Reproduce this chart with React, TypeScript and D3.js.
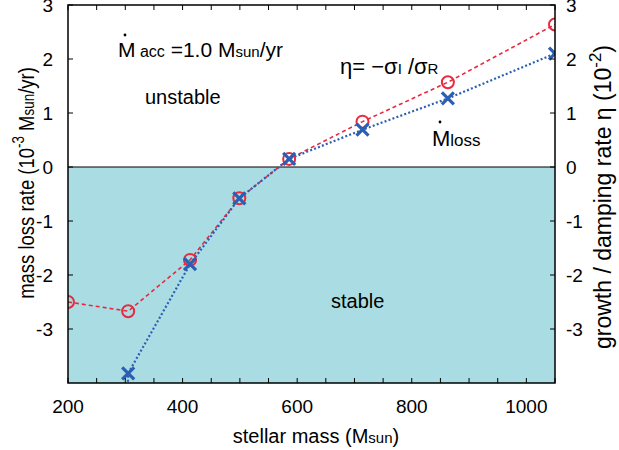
import React from 'react'
import * as d3 from 'd3'

// stellar mass (Msun) vs mass loss rate (1e-3 Msun/yr)
const massEta = [200, 305, 413, 499, 586, 714, 863, 1050]
const etaVals = [-2.5, -2.67, -1.72, -0.58, 0.15, 0.84, 1.57, 2.64]

const massLoss = [303, 305, 413, 499, 586, 714, 863, 1050]
const lossVals = [-4.6, -3.82, -1.8, -0.58, 0.15, 0.69, 1.27, 2.1]

const xTicks = [200, 400, 600, 800, 1000]
const xMinor = d3.range(200, 1051, 50)
const yTicks = [-3, -2, -1, 0, 1, 2, 3]

const W = 619
const H = 450
const m = {left: 68, right: 64, top: 5, bottom: 67}

const RED = '#e8293f'
const BLUE = '#2b5fb4'
const FONT = '"Liberation Sans", Arial, Helvetica, sans-serif'

export default function App() {
  const x = d3.scaleLinear().domain([200, 1050]).range([m.left, W - m.right])
  const y = d3.scaleLinear().domain([-4, 3]).range([H - m.bottom, m.top])
  const line = d3.line<number>()

  const etaPts: [number, number][] = massEta.map((d, i) => [x(d), y(etaVals[i])])
  const lossPts: [number, number][] = massLoss.map((d, i) => [x(d), y(lossVals[i])])

  const x0 = x.range()[0], x1 = x.range()[1]
  const yTop = y.range()[1], yBot = y.range()[0]

  return (
    <svg width={W} height={H} style={{position: 'absolute', left: 0, top: 0}} fontFamily={FONT}>
      <defs>
        <clipPath id="plot">
          <rect x={x0} y={yTop} width={x1 - x0} height={yBot - yTop} />
        </clipPath>
      </defs>
      {/* stable region */}
      <rect x={x0} y={y(0)} width={x1 - x0} height={yBot - y(0)} fill="#aadde3" />
      <line x1={x0} x2={x1} y1={y(0)} y2={y(0)} stroke="#000" strokeWidth={1.2} />

      <g clipPath="url(#plot)">
        <path d={line(etaPts) || ''} fill="none" stroke={RED} strokeWidth={1.6} strokeDasharray="4,3" />
        <path d={line(lossPts) || ''} fill="none" stroke={BLUE} strokeWidth={2.2} strokeDasharray="2,2.2" />
        {etaPts.map((p, i) => (
          <circle key={'c' + i} cx={p[0]} cy={p[1]} r={6} fill="none" stroke={RED} strokeWidth={2} />
        ))}
        {lossPts.slice(1).map((p, i) => (
          <path key={'x' + i} d={`M${p[0] - 6},${p[1] - 6}L${p[0] + 6},${p[1] + 6}M${p[0] - 6},${p[1] + 6}L${p[0] + 6},${p[1] - 6}`}
            stroke={BLUE} strokeWidth={3.2} fill="none" />
        ))}
      </g>

      {/* ticks */}
      {xMinor.map(t => (
        <g key={'xt' + t}>
          <line x1={x(t)} x2={x(t)} y1={yBot} y2={yBot - 5} stroke="#000" />
          <line x1={x(t)} x2={x(t)} y1={yTop} y2={yTop + 5} stroke="#000" />
        </g>
      ))}
      {yTicks.map(t => (
        <g key={'yt' + t}>
          <line x1={x0} x2={x0 + 5} y1={y(t)} y2={y(t)} stroke="#000" />
          <line x1={x1} x2={x1 - 5} y1={y(t)} y2={y(t)} stroke="#000" />
          <text x={x0 - 15} y={y(t)} dy="0.35em" textAnchor="end" fontSize={19}>{t}</text>
          <text x={x1 + 11} y={y(t)} dy="0.35em" textAnchor="start" fontSize={19}>{t}</text>
        </g>
      ))}
      {xTicks.map(t => (
        <text key={'xl' + t} x={x(t)} y={yBot + 30} textAnchor="middle" fontSize={19}>{t}</text>
      ))}

      <rect x={x0} y={yTop} width={x1 - x0} height={yBot - yTop} fill="none" stroke="#000" strokeWidth={1.5} />

      {/* axis titles */}
      <text x={316} y={443} textAnchor="middle" fontSize={20}>
        stellar mass (M<tspan fontSize={15}>sun</tspan>)
      </text>
      <text transform={`translate(34,183) rotate(-90) scale(0.84,1)`} textAnchor="middle" fontSize={22}>
        mass loss rate (10<tspan fontSize={16} dy={-10}>-3</tspan><tspan dy={10}> M</tspan><tspan fontSize={16}>sun</tspan>/yr)
      </text>
      <text transform={`translate(611,197) rotate(-90)`} textAnchor="middle" fontSize={23}>
        growth / damping rate η  (10<tspan fontSize={17} dy={-10}>-2</tspan><tspan dy={10}>)</tspan>
      </text>

      {/* annotations */}
      <text x={118} y={57} fontSize={21}>
        M<tspan fontSize={16}> acc</tspan> =1.0 M<tspan fontSize={15}>sun</tspan>/yr
      </text>
      <circle cx={125} cy={35} r={1.4} fill="#000" />
      <text x={145} y={104} fontSize={20}>unstable</text>
      <text x={340} y={74} fontSize={22}>
        η= −σ<tspan fontSize={15}>I</tspan> /σ<tspan fontSize={15}>R</tspan>
      </text>
      <text x={432} y={146} fontSize={22}>
        M<tspan fontSize={17}>loss</tspan>
      </text>
      <circle cx={440} cy={122} r={1.4} fill="#000" />
      <text x={331} y={308} fontSize={20}>stable</text>
    </svg>
  )
}
